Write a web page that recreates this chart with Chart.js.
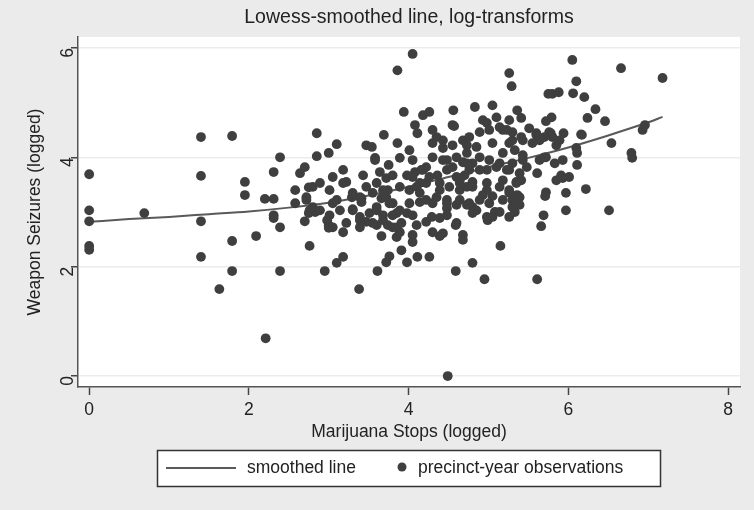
<!DOCTYPE html>
<html>
<head>
<meta charset="utf-8">
<script src="https://cdn.jsdelivr.net/npm/chart.js@4.4.1/dist/chart.umd.min.js"></script>
<style>
  html, body { margin: 0; padding: 0; background: #ebebeb; }
  #wrap { width: 754px; height: 510px; }
</style>
</head>
<body>
<div id="wrap"><canvas id="chart"></canvas></div>
<script>
// precinct-year observations (log marijuana stops, log weapon seizures)
const marijuanaStops = [
  0, 0, 0, 0, 0, 0.69, 1.40, 1.40, 1.40, 1.40, 1.79, 1.79, 1.79, 1.63, 1.95, 1.95, 2.09, 2.21,
  2.20, 2.31, 2.31, 2.39, 2.31, 2.31, 2.39, 2.39, 2.58, 2.58, 2.64, 2.70, 2.70, 2.75, 2.76, 2.75,
  4.05, 3.86, 5.26, 5.29, 5.75, 3.94, 4.18, 4.26, 4.56, 4.57, 4.83, 5.05, 5.36,
  2.85, 2.85, 3.00, 3.10, 3.69, 3.86, 3.47, 3.54, 3.05, 3.18, 3.43, 3.58, 3.75, 3.89,
  4.55, 4.08, 4.11, 4.30, 4.01, 3.58, 2.80, 2.89, 3.01, 3.22, 3.10, 3.29, 3.41, 3.30,
  3.64, 3.72, 3.80, 3.74, 3.89, 3.66, 3.76, 3.98, 4.08, 4.16, 4.01, 4.10, 4.22, 4.01, 4.14,
  4.36, 4.48, 4.60, 4.70, 4.39, 4.51, 4.64, 4.73, 4.30, 4.48, 4.60,
  4.30, 4.43, 4.55, 4.68, 4.30, 4.43, 4.60, 4.68, 4.22, 4.05,
  2.72, 2.80, 2.89, 3.51, 3.60, 3.85, 3.98,
  2.95, 3.38, 3.10, 3.18, 3.61, 3.72, 3.76, 3.66, 3.91, 3.98, 4.11, 4.26, 4.59, 4.59, 4.68, 4.68,
  4.05, 4.05, 3.85, 4.39, 4.30,
  3.00, 3.00, 3.18, 2.83, 3.01, 3.39, 3.47, 3.60, 3.74, 3.85, 3.91, 3.89, 4.10, 4.22, 4.29, 4.39, 4.43,
  3.41, 4.48, 4.73, 3.60, 3.68, 3.80,
  4.49, 4.95, 5.61, 5.15, 4.80, 5.66,
  6.51, 6.22, 5.97, 5.97, 5.72, 5.71, 5.69,
  4.80, 4.85, 4.99, 5.05, 5.08, 4.93, 5.05, 5.18, 5.30, 5.39, 5.33, 5.26, 5.36, 5.41,
  6.05, 6.66, 6.10, 5.80, 5.88, 6.06, 6.20, 6.34, 6.24, 6.46, 5.72, 5.79, 6.16, 6.54, 5.94, 5.76,
  5.80, 6.10, 6.11, 6.11, 5.85, 5.61, 5.91, 6.01, 5.93, 5.60, 5.64, 5.51, 5.26, 5.41, 4.93, 5.10,
  5.18, 5.30, 5.01, 4.89, 4.76, 4.85, 5.05, 5.26, 5.43, 5.55, 5.18, 5.33, 5.43, 5.30, 5.43, 4.89,
  5.01, 4.73, 4.76, 4.98, 5.10, 5.26, 5.39, 5.48, 5.64, 5.72, 5.85, 5.93, 4.64, 4.80, 4.98, 5.18, 5.35,
  7.18, 5.78, 6.17, 5.89, 6.93, 6.96, 6.79, 6.80, 5.70, 5.83,
  4.35, 4.43, 4.73, 4.98, 5.14, 5.23, 5.30, 5.41, 5.60, 5.70, 5.14, 5.23, 4.80, 4.89, 4.73, 4.48,
  4.55, 4.18, 4.26, 4.05, 4.14, 4.39, 4.64, 4.80, 4.98, 5.14, 5.26, 5.35, 5.39, 5.30, 4.89, 5.01,
  4.64, 4.76, 4.35, 4.48, 4.14, 4.22, 4.80, 4.98, 5.14, 5.26, 4.48, 4.60, 4.05, 3.72, 3.80, 3.89,
  3.60, 3.68, 3.47, 3.55, 3.30, 3.39, 3.18, 2.72, 2.76, 3.05, 3.14, 3.30, 3.39, 2.98, 3.05, 3.22,
  3.39, 3.55, 3.68, 3.80
];
const weaponSeizures = [
  3.69, 3.03, 2.83, 2.38, 2.31, 2.98, 4.37, 3.66, 2.83, 2.18, 4.39, 2.47, 1.92, 1.59, 3.55, 3.31, 2.56, 0.69,
  3.24, 3.24, 3.73, 4.00, 2.94, 2.89, 2.72, 1.92, 3.40, 3.16, 3.71, 3.82, 2.83, 3.45, 2.38, 2.98,
  5.89, 5.59, 5.54, 5.30, 5.16, 4.83, 4.77, 4.83, 4.86, 4.57, 4.92, 4.95, 4.86,
  4.44, 4.02, 4.08, 4.24, 4.41, 4.26, 4.22, 4.19, 3.64, 3.77, 3.67, 3.99, 3.86, 3.99,
  4.59, 4.59, 4.44, 4.50, 4.13, 3.95, 3.46, 3.53, 3.40, 3.55, 3.22, 3.27, 3.25, 3.05,
  3.73, 3.62, 3.67, 3.40, 3.46, 3.25, 3.16, 3.67, 3.73, 3.77, 3.40, 3.46, 3.53, 3.16, 3.18,
  3.67, 3.77, 3.64, 3.67, 3.40, 3.46, 3.40, 3.46, 3.16, 3.22, 3.13,
  4.26, 4.31, 4.22, 4.31, 4.00, 3.95, 4.00, 3.91, 3.82, 3.95,
  3.22, 3.09, 3.03, 2.98, 3.03, 2.98, 2.98,
  1.92, 1.59, 2.07, 2.18, 1.92, 2.08, 2.19, 2.56, 2.30, 2.08, 2.18, 2.18, 1.92, 2.76, 2.58, 2.49,
  2.58, 2.45, 2.54, 2.56, 2.63,
  2.76, 2.71, 2.63, 3.00, 2.94, 2.85, 2.82, 2.76, 2.76, 2.72, 2.80, 2.63, 2.76, 2.82, 2.91, 2.89, 2.61,
  3.18, 3.07, 3.13, 3.09, 2.94, 2.94,
  0.00, 1.77, 1.77, 2.38, 2.07, 2.74,
  3.03, 3.42, 3.35, 3.03, 3.36, 3.29, 2.94,
  3.09, 3.03, 2.85, 2.91, 3.00, 3.31, 3.29, 3.22, 3.22, 3.13, 3.00, 3.35, 3.31, 3.58,
  5.78, 5.63, 5.39, 5.16, 5.19, 5.17, 5.10, 4.88, 4.72, 4.66, 4.66, 4.73, 4.42, 4.26, 4.44, 4.46,
  4.37, 4.17, 4.08, 3.86, 4.22, 3.71, 3.67, 3.64, 3.95, 4.41, 4.31, 4.53, 4.68, 4.72, 4.68, 4.73,
  4.50, 4.46, 4.50, 4.46, 4.37, 4.19, 4.26, 4.26, 4.31, 4.26, 4.08, 4.13, 4.04, 3.89, 3.95, 4.00,
  3.95, 4.08, 3.77, 3.77, 3.82, 3.77, 3.71, 3.82, 3.95, 4.00, 3.58, 3.62, 3.58, 3.55, 3.53, 3.58, 3.55,
  5.45, 4.44, 4.41, 4.31, 4.50, 4.59, 4.08, 3.99, 4.00, 3.89,
  4.37, 4.17, 4.22, 4.63, 4.55, 4.50, 4.31, 4.37, 4.44, 4.37, 3.89, 3.77, 3.89, 3.77, 3.89, 3.95,
  3.82, 3.77, 3.64, 3.64, 3.53, 3.53, 3.53, 3.46, 3.40, 3.46, 3.40, 3.53, 3.27, 3.09, 3.22, 3.16,
  3.22, 3.16, 3.27, 3.16, 3.35, 3.22, 2.98, 2.91, 3.00, 2.91, 2.94, 2.80, 2.94, 3.27, 3.16, 3.03,
  3.53, 3.40, 3.46, 3.35, 3.35, 3.27, 3.53, 3.27, 3.03, 3.16, 3.03, 3.03, 2.91, 2.85, 2.72, 2.80,
  2.72, 2.80, 2.85, 2.72
];
// lowess-smoothed line
const smoothX = [0, 0.5, 1, 1.5, 2, 2.5, 3, 3.5, 4, 4.5, 5, 5.5, 6, 6.5, 7, 7.18];
const smoothY = [2.82, 2.87, 2.91, 2.96, 3.01, 3.08, 3.17, 3.30, 3.46, 3.64, 3.82, 3.99, 4.18, 4.40, 4.64, 4.74];
const xTicks = [0, 2, 4, 6, 8];
const yTicks = [0, 2, 4, 6];

const FONT = "'Liberation Sans', Arial, Helvetica, sans-serif";
const DOT = '#3f3f3f';
const LINE = '#595959';

const points = marijuanaStops.map((x, i) => ({ x: x, y: weaponSeizures[i] }));
const smoothed = smoothX.map((x, i) => ({ x: x, y: smoothY[i] }));

// white plot region, like the Stata plotregion
const plotBg = {
  id: 'plotBg',
  beforeDraw(chart) {
    const { ctx, chartArea: a } = chart;
    ctx.save();
    ctx.fillStyle = '#ffffff';
    ctx.fillRect(a.left, a.top, a.right - a.left, a.bottom - a.top);
    ctx.restore();
  }
};

// boxed legend under the x axis title
const boxLegend = {
  id: 'boxLegend',
  afterDraw(chart) {
    const ctx = chart.ctx;
    const ds = chart.data.datasets;
    const top = 450, h = 36, left = 157, w = 503, cy = top + h / 2;
    ctx.save();
    ctx.fillStyle = '#ffffff';
    ctx.fillRect(left, top, w, h);
    ctx.strokeStyle = '#333333';
    ctx.lineWidth = 1.5;
    ctx.strokeRect(left + 0.5, top + 0.5, w, h);

    ctx.strokeStyle = LINE;
    ctx.lineWidth = 2;
    ctx.beginPath();
    ctx.moveTo(166, cy);
    ctx.lineTo(236, cy);
    ctx.stroke();

    ctx.fillStyle = '#222222';
    ctx.font = '17.5px ' + FONT;
    ctx.textBaseline = 'middle';
    ctx.textAlign = 'left';
    ctx.fillText(ds[1].label, 247, cy);

    ctx.fillStyle = DOT;
    ctx.beginPath();
    ctx.arc(402, cy - 1, 4.5, 0, Math.PI * 2);
    ctx.fill();

    ctx.fillStyle = '#222222';
    ctx.fillText(ds[0].label, 418, cy);
    ctx.restore();
  }
};

new Chart(document.getElementById('chart'), {
  type: 'scatter',
  data: {
    datasets: [
      {
        label: 'precinct-year observations',
        data: points,
        backgroundColor: DOT,
        borderWidth: 0,
        pointRadius: 4.9,
        order: 1
      },
      {
        type: 'line',
        label: 'smoothed line',
        data: smoothed,
        borderColor: LINE,
        borderWidth: 2,
        pointRadius: 0,
        fill: false,
        cubicInterpolationMode: 'monotone',
        order: 2
      }
    ]
  },
  options: {
    responsive: true,
    maintainAspectRatio: false,
    animation: false,
    layout: { padding: { top: 0, left: 0, right: 14, bottom: 65 } },
    plugins: {
      legend: { display: false },
      tooltip: { enabled: false },
      title: {
        display: true,
        fullSize: false,
        text: 'Lowess-smoothed line, log-transforms',
        color: '#222222',
        font: { family: FONT, size: 19.5, weight: 'normal' },
        padding: { top: 6, bottom: 7.6 }
      }
    },
    scales: {
      x: {
        type: 'linear',
        min: -0.14,
        max: 8.15,
        afterBuildTicks: (s) => { s.ticks = xTicks.map(v => ({ value: v })); },
        afterFit: (s) => { s.height = 58; },
        ticks: { color: '#222222', font: { family: FONT, size: 17.5 }, padding: 5 },
        grid: { drawOnChartArea: false, drawTicks: true, tickLength: 8, tickColor: '#444444', tickWidth: 1.5 },
        border: { color: '#555555', width: 1.5 },
        title: {
          display: true,
          text: 'Marijuana Stops (logged)',
          color: '#222222',
          font: { family: FONT, size: 17.5 },
          padding: { top: 0, bottom: 2.5 }
        }
      },
      y: {
        type: 'linear',
        min: -0.2,
        max: 6.2,
        afterBuildTicks: (s) => { s.ticks = yTicks.map(v => ({ value: v })); },
        afterFit: (s) => { s.width = 78; },
        ticks: { color: '#222222', font: { family: FONT, size: 17.5 }, padding: 3, minRotation: 90, maxRotation: 90 },
        grid: { color: '#ececec', lineWidth: 1.5, drawTicks: true, tickLength: 7, tickColor: '#444444', tickWidth: 1.5 },
        border: { color: '#555555', width: 1.5 },
        title: {
          display: true,
          text: 'Weapon Seizures (logged)',
          color: '#222222',
          font: { family: FONT, size: 17.5 },
          padding: { top: 24.5, bottom: 0 }
        }
      }
    }
  },
  plugins: [plotBg, boxLegend]
});
</script>
</body>
</html>
